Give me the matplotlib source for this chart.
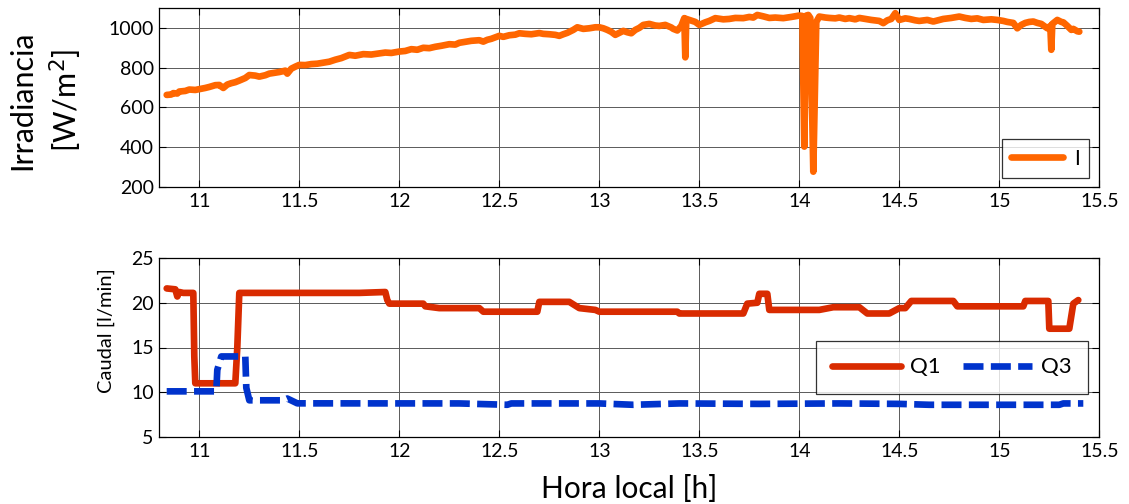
import matplotlib
matplotlib.use("Agg")
import matplotlib.pyplot as plt

plt.rcParams['font.family'] = ['Lato', 'DejaVu Sans']

# --- Irradiance (top) ---
t_irr = [10.837, 10.86, 10.87, 10.89, 10.90, 10.93, 10.95, 10.98, 11.0, 11.03, 11.05, 11.08, 11.10,
         11.11, 11.12, 11.14, 11.16, 11.18, 11.20, 11.23, 11.25, 11.28, 11.30, 11.33,
         11.35, 11.38, 11.40, 11.43, 11.44, 11.46, 11.48, 11.50, 11.53, 11.56, 11.59, 11.62, 11.65,
         11.68, 11.71, 11.75, 11.78, 11.82, 11.86, 11.90, 11.93, 11.96, 12.0,
         12.03, 12.06, 12.09, 12.12, 12.15, 12.18, 12.21, 12.25, 12.28, 12.30, 12.33, 12.36, 12.40,
         12.42, 12.44, 12.46, 12.50, 12.52, 12.55, 12.58, 12.60, 12.63, 12.66, 12.70, 12.72, 12.75, 12.78,
         12.80, 12.82, 12.84, 12.87, 12.89, 12.92, 12.95, 12.98, 13.0, 13.02, 13.04, 13.06, 13.08, 13.10,
         13.12, 13.14, 13.16, 13.18, 13.20, 13.22, 13.25, 13.28, 13.30, 13.33, 13.36, 13.37,
         13.39, 13.41, 13.425, 13.43, 13.435, 13.45, 13.48, 13.50, 13.53, 13.55, 13.58, 13.62, 13.65,
         13.68, 13.72, 13.75, 13.77, 13.79, 13.82, 13.85, 13.88, 13.92, 13.96, 14.0, 14.015, 14.025,
         14.035, 14.045, 14.055, 14.07, 14.085, 14.1, 14.13, 14.15, 14.18,
         14.2, 14.23, 14.25, 14.28, 14.30, 14.33, 14.36, 14.40, 14.42, 14.44, 14.46, 14.48, 14.5, 14.53,
         14.55, 14.58, 14.60, 14.64, 14.67, 14.70, 14.72, 14.76, 14.8, 14.83, 14.86, 14.89,
         14.92, 14.96, 14.99, 15.02, 15.04, 15.07, 15.09, 15.11, 15.13, 15.15, 15.17, 15.19, 15.21,
         15.24, 15.255, 15.26, 15.265, 15.29, 15.31, 15.32, 15.34, 15.36, 15.37, 15.39, 15.40]
irr = [663, 665, 672, 670, 680, 683, 690, 688, 692, 698, 703, 712, 713,
       705, 698, 715, 722, 727, 735, 748, 763, 760, 755, 762,
       770, 775, 778, 785, 770, 795, 805, 814, 813, 818, 820, 825, 830,
       840, 848, 864, 860, 868, 866, 872, 876, 874, 881,
       884, 893, 890, 900, 898, 905, 910, 918, 916, 925, 930, 935, 938,
       931, 940, 945, 960, 955, 963, 966, 973, 970, 968, 974, 970, 968, 965,
       960, 968, 975, 990, 1003, 995, 998, 1003, 1003, 998, 990, 980, 965, 975,
       985, 978, 973, 990, 1000, 1015, 1020, 1012, 1010, 1015, 1002, 995,
       987, 1010, 1049, 852, 1045, 1040, 1030, 1015, 1028, 1035, 1049, 1043, 1045,
       1050, 1049, 1055, 1052, 1065, 1058, 1050, 1052, 1049, 1055, 1062, 1060, 403,
       1062, 1065, 1050, 277, 1030, 1057, 1052, 1050, 1048,
       1052, 1045, 1049, 1043, 1050, 1045, 1040, 1035, 1024, 1038, 1045, 1074, 1040, 1048,
       1045, 1038, 1035, 1040, 1032, 1040, 1045, 1050, 1057, 1050, 1045, 1048,
       1040, 1043, 1040, 1035, 1030, 1025, 998, 1015, 1025, 1030, 1032, 1025, 1020,
       998, 1010, 890, 1020, 1040, 1030, 1028, 1010, 990, 995, 983, 981]

# --- Flows (bottom) ---
t_q1 = [10.837, 10.88, 10.89, 10.90, 10.92, 10.97, 10.975, 10.98, 11.18, 11.19, 11.20, 11.30, 11.40,
        11.50, 11.60, 11.70, 11.80, 11.93, 11.94, 11.95, 12.12, 12.13, 12.20, 12.40, 12.42, 12.69, 12.70,
        12.85, 12.90, 12.98, 13.0, 13.39, 13.40, 13.72, 13.74, 13.79, 13.80, 13.84, 13.85, 14.10, 14.17,
        14.30, 14.34, 14.45, 14.50, 14.53, 14.56, 14.77, 14.79, 15.12, 15.13, 15.245, 15.25, 15.35, 15.37,
        15.395]
q1 = [21.6, 21.5, 20.7, 21.2, 21.1, 21.1, 14.0, 11.0, 11.0, 15.0, 21.1, 21.1, 21.1,
      21.1, 21.1, 21.1, 21.1, 21.2, 20.3, 19.9, 19.9, 19.6, 19.4, 19.4, 19.0, 19.0, 20.1,
      20.1, 19.4, 19.2, 19.0, 19.0, 18.8, 18.8, 19.9, 20.0, 21.0, 21.0, 19.2, 19.2, 19.5,
      19.5, 18.8, 18.8, 19.4, 19.4, 20.2, 20.2, 19.6, 19.6, 20.2, 20.2, 17.1, 17.1, 19.9,
      20.3]

t_q3 = [10.837, 11.085, 11.09, 11.11, 11.23, 11.235, 11.25, 11.42, 11.44, 11.49, 12.3, 12.54, 12.56,
        13.0, 13.17, 13.4, 13.8, 14.2, 14.5, 14.65, 15.30, 15.32, 15.42]
q3 = [10.1, 10.1, 12.5, 14.0, 14.0, 10.5, 9.1, 9.1, 9.3, 8.76, 8.75, 8.6, 8.75,
      8.75, 8.6, 8.75, 8.7, 8.75, 8.7, 8.6, 8.6, 8.75, 8.75]

xticks = [11, 11.5, 12, 12.5, 13, 13.5, 14, 14.5, 15, 15.5]
xticklabels = ['11', '11.5', '12', '12.5', '13', '13.5', '14', '14.5', '15', '15.5']

W, H = 1129, 504
fig = plt.figure(figsize=(W / 100, H / 100), dpi=100)

def px_axes(l, t, r, b):
    return fig.add_axes([l / W, 1 - b / H, (r - l) / W, (b - t) / H])

ax1 = px_axes(159.3, 8, 1099.3, 187)
ax2 = px_axes(159.3, 258, 1099.3, 437)

ORANGE = '#ff6600'
RED = '#d92b00'
BLUE = '#0033cc'

ax1.plot(t_irr, irr, color=ORANGE, lw=4.8, solid_capstyle='round', solid_joinstyle='round', label='I')
ax1.set_ylim(200, 1100)
ax1.set_yticks([200, 400, 600, 800, 1000])

ax2.plot(t_q1, q1, color=RED, lw=4.8, solid_capstyle='round', solid_joinstyle='round', label='Q1')
ax2.plot(t_q3, q3, color=BLUE, lw=4.8, dashes=(3.0, 1.1), dash_capstyle='butt', label='Q3')
ax2.set_ylim(5, 25)
ax2.set_yticks([5, 10, 15, 20, 25])

for ax in (ax1, ax2):
    ax.set_xlim(10.8, 15.5)
    ax.set_xticks(xticks)
    ax.set_xticklabels(xticklabels)
    ax.grid(True, color='0.35', lw=0.7)
    ax.set_axisbelow(True)
    ax.tick_params(direction='in', top=True, right=True, length=5, width=0.8,
                   labelsize=14, pad=4, colors='black')
    for s in ax.spines.values():
        s.set_color('black')
        s.set_linewidth(0.9)

fig.text(22 / W, 1 - 100 / H, 'Irradiancia', rotation=90, ha='center', va='center', fontsize=22)
fig.text(66 / W, 1 - 100 / H, '[W/m$^2$]', rotation=90, ha='center', va='center', fontsize=22)
fig.text(106 / W, 1 - 331 / H, 'Caudal [l/min]', rotation=90, ha='center', va='center', fontsize=14.5)
fig.text(629 / W, 1 - 489 / H, 'Hora local [h]', ha='center', va='center', fontsize=21.5)

leg1 = ax1.legend(loc='lower right', bbox_to_anchor=((1089 - 159.3) / 940, (187 - 178) / 179),
                  fontsize=15, handlelength=2.5, frameon=True, fancybox=False,
                  edgecolor='black', borderpad=0.45, handletextpad=0.5, borderaxespad=0)
leg1.get_frame().set_linewidth(0.9)
leg2 = ax2.legend(loc='lower right', bbox_to_anchor=((1088 - 159.3) / 940, (437 - 394) / 179),
                  ncol=2, fontsize=16, handlelength=3.1, frameon=True, fancybox=False,
                  edgecolor='black', borderpad=0.75, handletextpad=0.4, columnspacing=1.0,
                  borderaxespad=0)
leg2.get_frame().set_linewidth(0.9)

fig.savefig('out.png', dpi=100)
